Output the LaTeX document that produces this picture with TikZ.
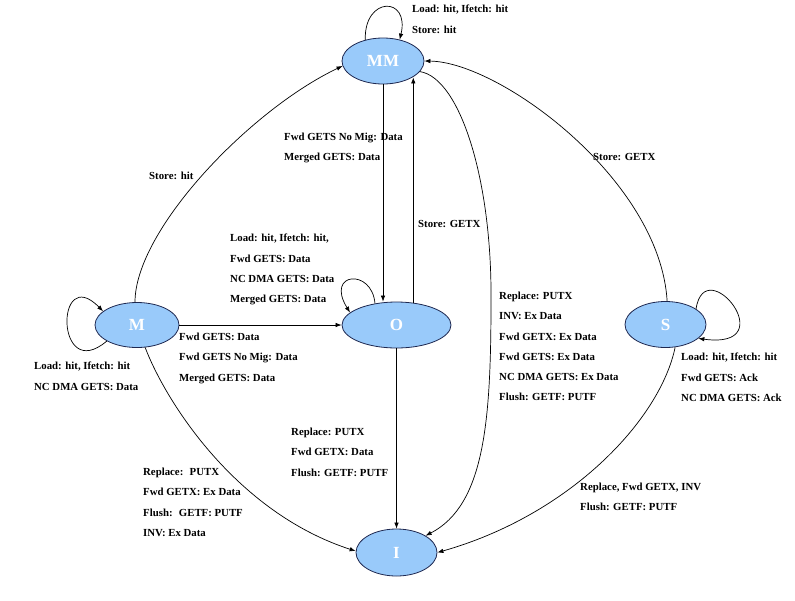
\documentclass[tikz,border=0pt]{standalone}
\usepackage{fontspec}
\setmainfont{Liberation Serif}
\usetikzlibrary{shapes.geometric,arrows.meta}
\definecolor{stfill}{RGB}{153,202,250}
\definecolor{stline}{RGB}{30,40,80}
\begin{document}
\begin{tikzpicture}[x=1pt,y=-1pt,
  st/.style={ellipse,draw=stline,fill=stfill,line width=0.8pt,inner sep=0pt,
    text=white,font=\fontsize{17}{17}\selectfont\bfseries},
  lab/.style={anchor=north west,inner sep=0pt,align=left,
    font=\fontsize{10.8}{20.2}\selectfont\bfseries},
  tr/.style={draw=black,line width=0.7pt,-{Latex[length=6pt,width=4.5pt]}}]
\useasboundingbox (0,0) rectangle (795,600);
\fill[white] (0,0) rectangle (795,600);
% states
\node[st,minimum width=82pt,minimum height=46pt] (MM) at (383,61) {MM};
\node[st,minimum width=84pt,minimum height=45pt] (M) at (137,325) {M};
\node[st,minimum width=109pt,minimum height=46pt] (O) at (396.5,325) {O};
\node[st,minimum width=81pt,minimum height=46pt] (S) at (665.5,324.5) {S};
\node[st,minimum width=81pt,minimum height=47pt] (I) at (396.5,552.5) {I};
% transitions
\draw[tr] (MM.130) .. controls (364,-4) and (410,-4) .. (MM.52);
\draw[tr] (M.95) .. controls (135,230) and (250,110) .. (MM.187);
\draw[tr] (MM.south) -- (MM.south |- O.north);
\draw[tr] (O.53) -- (O.53 |- MM.-29);
\draw[tr] (MM.-16) .. controls (460,78) and (492,180) .. (491,300)
  .. controls (491,420) and (485,505) .. (I.30);
\draw[tr] (S.86) .. controls (660,180) and (500,62) .. (MM.east);
\draw[tr] (O.135) .. controls (372,268) and (325,272) .. (O.165);
\draw[tr] (M.east) -- (O.west);
\draw[tr] (M.208) .. controls (55,385) and (55,262) .. (M.158);
\draw[tr] (M.-70) .. controls (165,400) and (235,512) .. (I.178);
\draw[tr] (O.south) -- (I.north);
\draw[tr] (S.27) .. controls (705,250) and (785,350) .. (S.-23);
\draw[tr] (S.-67) .. controls (660,420) and (570,515) .. (I.0);
% labels
\node[lab] (lMMl) at (412,5) {Load: hit, Ifetch: hit\\Store: hit};
\node[lab] (lMMM) at (149,172) {Store: hit};
\node[lab] (lMMO) at (284,133) {Fwd GETS No Mig: Data\\Merged GETS: Data};
\node[lab] (lOMM) at (418,220) {Store: GETX};
\node[lab] (lSMM) at (593,153) {Store: GETX};
\node[lab] (lMMI) at (499,292) {Replace: PUTX\\INV: Ex Data\\Fwd GETX: Ex Data\\Fwd GETS: Ex Data\\NC DMA GETS: Ex Data\\Flush: GETF: PUTF};
\node[lab] (lOl) at (230,234) {Load: hit, Ifetch: hit,\\Fwd GETS: Data\\NC DMA GETS: Data\\Merged GETS: Data};
\node[lab] (lMO) at (179,333) {Fwd GETS: Data\\Fwd GETS No Mig: Data\\Merged GETS: Data};
\node[lab] (lMl) at (34,362) {Load: hit, Ifetch: hit\\NC DMA GETS: Data};
\node[lab] (lOI) at (291,428) {Replace: PUTX\\Fwd GETX: Data\\Flush: GETF: PUTF};
\node[lab] (lMI) at (143,468) {Replace: \ PUTX\\Fwd GETX: Ex Data\\Flush: \ GETF: PUTF\\INV: Ex Data};
\node[lab] (lSl) at (681,353) {Load: hit, Ifetch: hit\\Fwd GETS: Ack\\NC DMA GETS: Ack};
\node[lab] (lSI) at (580,483) {Replace, Fwd GETX, INV\\Flush: GETF: PUTF};
\end{tikzpicture}
\end{document}
